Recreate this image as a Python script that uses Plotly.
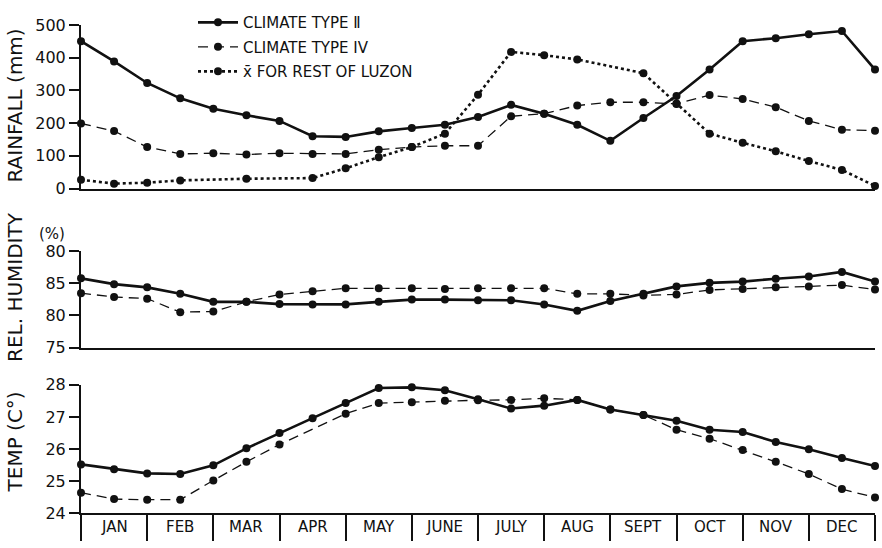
import plotly.graph_objects as go

# half-month positions (0 = start of Jan, 12 = end of Dec)
x_pos = [0, 0.5, 1, 1.5, 2, 2.5, 3, 3.5, 4, 4.5, 5, 5.5, 6, 6.5, 7, 7.5, 8, 8.5, 9, 9.5, 10, 10.5, 11, 11.5, 12]
months = ["JAN", "FEB", "MAR", "APR", "MAY", "JUNE", "JULY", "AUG", "SEPT", "OCT", "NOV", "DEC"]
month_centers = [0.5, 1.5, 2.5, 3.5, 4.5, 5.5, 6.5, 7.5, 8.5, 9.5, 10.5, 11.5]
month_bounds = [0, 1, 2, 3, 4, 5, 6, 7, 8, 9, 10, 11, 12]

names = ["CLIMATE TYPE \u2161", "CLIMATE TYPE IV", "x\u0304 FOR REST OF LUZON"]

rain_t2 = [451, 389, 323, 276, 244, 224, 207, 160, 158, 175, 185, 195, 219, 256, 229, 195, 146, 216, 283, 364, 451, 460, 472, 482, 364]
rain_t4 = [199, 176, 127, 106, 108, 104, 108, 106, 106, 119, 127, 131, 131, 221, 229, 254, 264, 264, 259, 286, 274, 249, 207, 180, 177]
rain_luzon = [27, 15, 18, 25, None, 30, None, 32, 62, 96, 127, 168, 287, 418, 408, 395, None, 353, 260, 168, 140, 114, 84, 57, 8]

hum_t2 = [85.75, 84.85, 84.35, 83.35, 82.1, 82.1, 81.75, 81.7, 81.7, 82.1, 82.45, 82.45, 82.35, 82.35, 81.7, 80.7, 82.25, 83.35, 84.5, 85.05, 85.25, 85.7, 86.05, 86.75, 85.25]
hum_t4 = [83.45, 82.85, 82.6, 80.5, 80.6, 82.1, 83.25, 83.75, 84.2, 84.2, 84.2, 84.1, 84.2, 84.2, 84.2, 83.35, 83.35, 83.1, 83.25, 83.95, 84.1, 84.35, 84.5, 84.7, 84.0]

temp_t2 = [25.52, 25.37, 25.24, 25.22, 25.49, 26.02, 26.5, 26.96, 27.43, 27.9, 27.92, 27.83, 27.55, 27.26, 27.35, 27.53, 27.23, 27.06, 26.88, 26.6, 26.53, 26.22, 25.99, 25.72, 25.47]
temp_t4 = [24.64, 24.44, 24.42, 24.42, 25.02, 25.6, 26.14, None, 27.1, 27.43, 27.46, 27.5, 27.52, 27.53, 27.58, 27.53, 27.23, 27.06, 26.6, 26.32, 25.97, 25.6, 25.22, 24.75, 24.49]

hum_ticks = [75, 80, 85, 90]
hum_ticktext = ["75", "80", "85", "80"]

FONT = "DejaVu Sans"
BLACK = "#111111"

styles = [
    dict(dash="solid", width=2.6),
    dict(dash="10px,6px", width=1.3),
    dict(dash="dot", width=2.6),
]

fig = go.Figure()

def add(y, style_idx, xa, ya, showlegend):
    st = styles[style_idx]
    fig.add_trace(go.Scatter(
        x=x_pos, y=y, mode="lines+markers", name=names[style_idx],
        legendgroup="g%d" % style_idx,
        line=dict(color=BLACK, width=st["width"], dash=st["dash"]),
        marker=dict(color=BLACK, size=8),
        connectgaps=True, cliponaxis=False, showlegend=showlegend,
        xaxis=xa, yaxis=ya,
    ))

add(rain_t2, 0, "x", "y", True)
add(rain_t4, 1, "x", "y", True)
add(rain_luzon, 2, "x", "y", True)
add(hum_t2, 0, "x2", "y2", False)
add(hum_t4, 1, "x2", "y2", False)
add(temp_t2, 0, "x3", "y3", False)
add(temp_t4, 1, "x3", "y3", False)

H = 548.0
def dom(top_px, bottom_px):
    return [(H - bottom_px) / H, (H - top_px) / H]

tickfont = dict(family=FONT, size=16, color=BLACK)
common_x = dict(range=[0, 12], showgrid=False, zeroline=False, showline=True,
                linecolor=BLACK, linewidth=2, showticklabels=False, ticks="")
common_y = dict(showgrid=False, zeroline=False, showline=True, linecolor=BLACK,
                linewidth=2, ticks="outside", ticklen=10, tickwidth=2,
                tickcolor=BLACK, tickfont=tickfont)

fig.update_layout(
    width=882, height=548,
    margin=dict(l=81, r=7, t=0, b=0),
    paper_bgcolor="white", plot_bgcolor="white",
    font=dict(family=FONT, color=BLACK),
    xaxis=dict(common_x, anchor="y", domain=[0, 1]),
    xaxis2=dict(common_x, anchor="y2", domain=[0, 1]),
    xaxis3=dict(common_x, anchor="y3", domain=[0, 1], ticks="outside",
                tickvals=month_bounds, ticklen=26, tickwidth=1.5, tickcolor=BLACK),
    yaxis=dict(common_y, anchor="x", domain=dom(16.7, 186), range=[0, 500],
               tickvals=[0, 100, 200, 300, 400, 500]),
    yaxis2=dict(common_y, anchor="x2", domain=dom(250.7, 350.7), range=[75, 90],
                tickvals=hum_ticks, ticktext=hum_ticktext),
    yaxis3=dict(common_y, anchor="x3", domain=dom(389.3, 522.3), range=[24, 28],
                tickvals=[24, 25, 26, 27, 28]),
    legend=dict(x=(193 - 81) / 794, y=(H + 3) / H, xanchor="left", yanchor="top",
                bgcolor="rgba(0,0,0,0)", font=dict(family=FONT, size=15, color=BLACK),
                tracegroupgap=2, itemwidth=40),
    showlegend=True,
)

def ytitle(text, y_px):
    fig.add_annotation(text=text, xref="paper", yref="paper",
                       x=(15 - 81) / 794, y=(H - y_px) / H, textangle=-90,
                       showarrow=False, xanchor="center", yanchor="middle",
                       font=dict(family=FONT, size=20, color=BLACK))

ytitle("RAINFALL (mm)", 100)
ytitle("REL. HUMIDITY", 288)
ytitle("TEMP (C\u00b0)", 449)

fig.add_annotation(text="(%)", xref="paper", yref="paper", x=(52 - 81) / 794,
                   y=(H - 233) / H, showarrow=False, xanchor="center", yanchor="middle",
                   font=dict(family=FONT, size=15, color=BLACK))

for c, m in zip(month_centers, months):
    fig.add_annotation(text=m, xref="x3", yref="paper", x=c, y=(H - 537) / H,
                       showarrow=False, xanchor="center", yanchor="middle",
                       font=dict(family=FONT, size=15, color=BLACK))

fig.write_html("out.html", config={"displayModeBar": False},
               post_script="document.body.style.margin='0';document.body.style.overflow='hidden';")
